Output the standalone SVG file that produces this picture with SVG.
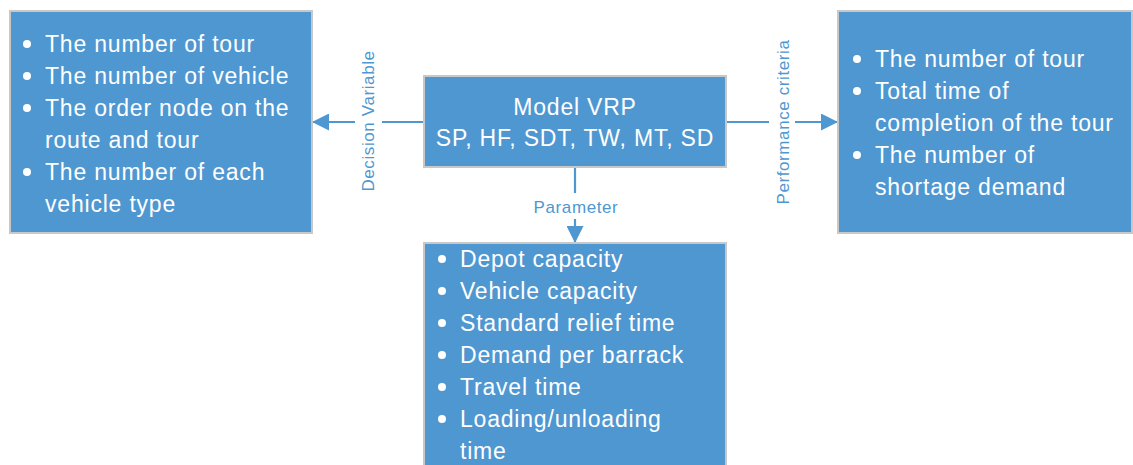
<svg xmlns="http://www.w3.org/2000/svg" width="1133" height="465" viewBox="0 0 1133 465">
<style>
.box{fill:#4f97d1;stroke:#c8c8c8;stroke-width:2}
.t{font-family:"Liberation Sans",Arial,sans-serif;font-size:23px;fill:#ffffff;letter-spacing:0.8px}
.lbl{font-family:"Liberation Sans",Arial,sans-serif;font-size:17px;fill:#4f97d1;letter-spacing:0.6px}
.b{fill:#ffffff}
.ln{stroke:#4f97d1;stroke-width:2.2;fill:none}
</style>
<defs>
<marker id="ah" viewBox="0 0 10 10" refX="10" refY="5" markerUnits="userSpaceOnUse" markerWidth="18" markerHeight="17" orient="auto">
<path d="M0,0 L10,5 L0,10 Z" fill="#4f97d1"/>
</marker>
</defs>
<g id="connectors">
<line class="ln" x1="424" y1="122" x2="382" y2="122"/>
<line class="ln" x1="355" y1="122" x2="312" y2="122" marker-end="url(#ah)"/>
<text class="lbl" transform="translate(374,121) rotate(-90)" text-anchor="middle">Decision Variable</text>
<line class="ln" x1="726" y1="122" x2="769" y2="122"/>
<line class="ln" x1="795" y1="122" x2="838" y2="122" marker-end="url(#ah)"/>
<text class="lbl" transform="translate(789,122) rotate(-90)" text-anchor="middle">Performance criteria</text>
<line class="ln" x1="575" y1="167" x2="575" y2="193"/>
<line class="ln" x1="575" y1="219" x2="575" y2="243" marker-end="url(#ah)"/>
<text class="lbl" x="576" y="213" text-anchor="middle">Parameter</text>
</g>
<g id="node-center">
<rect class="box" x="424" y="76" width="302" height="91"/>
<text class="t" x="575" y="115" text-anchor="middle">Model VRP</text>
<text class="t" x="575" y="146" text-anchor="middle">SP, HF, SDT, TW, MT, SD</text>
</g>
<g id="node-decision">
<rect class="box" x="10" y="11" width="302" height="222"/>
<circle class="b" cx="27" cy="44" r="4"/>
<circle class="b" cx="27" cy="76" r="4"/>
<circle class="b" cx="27" cy="108" r="4"/>
<circle class="b" cx="27" cy="172" r="4"/>
<text class="t" x="45" y="52">The number of tour</text>
<text class="t" x="45" y="84">The number of vehicle</text>
<text class="t" x="45" y="116">The order node on the</text>
<text class="t" x="45" y="148">route and tour</text>
<text class="t" x="45" y="180">The number of each</text>
<text class="t" x="45" y="212">vehicle type</text>
</g>
<g id="node-performance">
<rect class="box" x="838" y="11" width="294" height="222"/>
<circle class="b" cx="857" cy="59" r="4"/>
<circle class="b" cx="857" cy="91" r="4"/>
<circle class="b" cx="857" cy="155" r="4"/>
<text class="t" x="875" y="67">The number of tour</text>
<text class="t" x="875" y="99">Total time of</text>
<text class="t" x="875" y="131">completion of the tour</text>
<text class="t" x="875" y="163">The number of</text>
<text class="t" x="875" y="195">shortage demand</text>
</g>
<g id="node-parameter">
<rect class="box" x="424" y="243" width="302" height="240"/>
<circle class="b" cx="442" cy="259" r="4"/>
<circle class="b" cx="442" cy="291" r="4"/>
<circle class="b" cx="442" cy="323" r="4"/>
<circle class="b" cx="442" cy="355" r="4"/>
<circle class="b" cx="442" cy="387" r="4"/>
<circle class="b" cx="442" cy="419" r="4"/>
<text class="t" x="460" y="267">Depot capacity</text>
<text class="t" x="460" y="299">Vehicle capacity</text>
<text class="t" x="460" y="331">Standard relief time</text>
<text class="t" x="460" y="363">Demand per barrack</text>
<text class="t" x="460" y="395">Travel time</text>
<text class="t" x="460" y="427">Loading/unloading</text>
<text class="t" x="460" y="459">time</text>
</g>
</svg>
